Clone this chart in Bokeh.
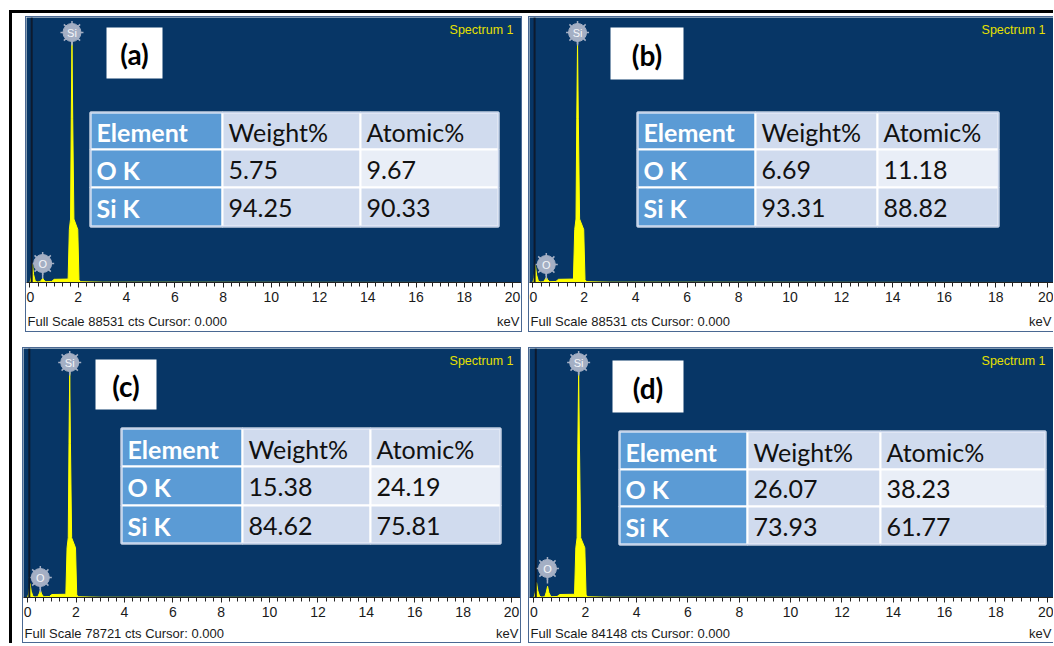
from bokeh.plotting import figure
from bokeh.layouts import row, column
from bokeh.models import Range1d, Label, Span, FixedTicker
from bokeh.embed import file_html
from bokeh.resources import INLINE
from bokeh.core.properties import value

# ---------------- data ----------------
panel_ids = ["(a)", "(b)", "(c)", "(d)"]
full_scale_cts = [88531, 88531, 78721, 84148]
table_header = ["Element", "Weight%", "Atomic%"]
elements = ["O K", "Si K"]
weight_pct = [["5.75", "94.25"], ["6.69", "93.31"], ["15.38", "84.62"], ["26.07", "73.93"]]
atomic_pct = [["9.67", "90.33"], ["11.18", "88.82"], ["24.19", "75.81"], ["38.23", "61.77"]]

energy_kev = [0.00, 0.05, 0.10, 0.15, 0.22, 0.30, 0.42, 0.48, 0.53, 0.58, 0.66, 0.90, 1.00,
              1.58, 1.63, 1.68, 1.71, 1.74, 1.77, 1.82, 1.98, 2.03, 2.10, 3.00, 20.0]
counts_a = [0, 1770, 6200, 2660, 440, 180, 270, 890, 1420, 710, 270, 350, 1060,
            1150, 17700, 21200, 54900, 80600, 54900, 21200, 17700, 890, 270, 90, 0]
counts_b = [0, 1600, 5800, 2500, 440, 180, 270, 1060, 1770, 890, 270, 350, 1060,
            1150, 17700, 21200, 54900, 80600, 54900, 21200, 17700, 890, 270, 90, 0]
counts_c = [0, 1400, 4400, 2000, 390, 160, 240, 1260, 2360, 1100, 240, 320, 940,
            1020, 15700, 18900, 48800, 71600, 48800, 18900, 15700, 790, 240, 80, 0]
counts_d = [0, 1700, 5050, 2300, 420, 170, 250, 1850, 3790, 1700, 250, 340, 1010,
            1090, 16800, 20200, 52200, 76600, 52200, 20200, 16800, 840, 250, 85, 0]
spectra = [counts_a, counts_b, counts_c, counts_d]

peak_labels = ["Si", "O"]
peak_kev = [1.74, 0.525]
x_ticks = [0, 2, 4, 6, 8, 10, 12, 14, 16, 18, 20]

# ---------------- layout / style ----------------
BLUE = "#073666"
YELLOW = "#FFFF00"
PANEL_BORDER = "#4a6892"
MARKER = "#A4AFC4"
FIRST_COL = "#5B9BD5"
CELL = "#D0DBEE"
CELL_LIGHT = "#E9EEF7"
TXT = "#1a1a1a"

panels = [
    dict(cw=495, fh=265, below=31, foot=18, xr=(-0.145, 20.37), margin=(3, 0, 0, 13), right=True,
         box=(80, 136, 10, 61), cols=(64, 196, 334, 472), rows=(95, 132, 170, 209),
         spec_x=487, si_y=15, o_y=246),
    dict(cw=524, fh=265, below=31, foot=18, xr=(-0.128, 20.245), margin=(3, 0, 0, 6), right=False,
         box=(81, 154, 10, 62), cols=(108, 226, 348, 469), rows=(95, 132, 170, 209),
         spec_x=516, si_y=15, o_y=247),
    dict(cw=497, fh=249, below=29, foot=16, xr=(-0.17, 20.37), margin=(15, 0, 0, 10), right=True,
         box=(72, 133, 11, 61), cols=(98, 219, 347, 477), rows=(80, 118, 157, 195),
         spec_x=490, si_y=14, o_y=229),
    dict(cw=524, fh=249, below=29, foot=16, xr=(-0.175, 20.245), margin=(15, 0, 0, 7), right=False,
         box=(83, 154, 12, 64), cols=(90, 218, 351, 516), rows=(83, 121, 158, 196),
         spec_x=516, si_y=14, o_y=220),
]


def make_panel(i):
    L = panels[i]
    fs = full_scale_cts[i]
    p = figure(width=L["cw"], height=L["fh"] + L["below"], x_range=Range1d(*L["xr"]),
               y_range=Range1d(0, fs), output_backend="svg", toolbar_location=None,
               y_axis_location=None, title=None,
               min_border_left=0, min_border_right=0, min_border_top=0,
               min_border_bottom=L["below"],
               background_fill_color=BLUE, border_fill_color="white",
               outline_line_color=None)
    p.extra_x_ranges = {"px": Range1d(0, L["cw"])}
    p.extra_y_ranges = {"px": Range1d(L["fh"], 0)}
    p.grid.visible = False

    ax = p.xaxis[0]
    ax.ticker = FixedTicker(ticks=x_ticks, minor_ticks=[k / 3 for k in range(61)])
    ax.major_label_text_font = "Liberation Sans"
    ax.major_label_text_font_size = "14px"
    ax.major_label_text_color = TXT
    ax.major_label_standoff = 4
    ax.major_tick_in = 0
    ax.major_tick_out = 5
    ax.minor_tick_in = 0
    ax.minor_tick_out = 4
    ax.major_tick_line_color = "#222222"
    ax.minor_tick_line_color = "#222222"
    ax.axis_line_color = "#222222"

    # cursor line
    p.add_layout(Span(location=0.07, dimension="height", line_color="#0d1a2e", line_width=2))

    # spectrum
    y = spectra[i]
    p.varea(x=energy_kev, y1=[0] * len(y), y2=y, fill_color=YELLOW)
    p.line(x=energy_kev, y=y, line_color=YELLOW, line_width=1)

    # peak markers
    for lab, kev, yy, stem in zip(peak_labels, peak_kev, (L["si_y"], L["o_y"]), (13, 15)):
        p.segment(x0=[kev], x1=[kev], y0=[yy], y1=[yy + stem], line_color=MARKER,
                  line_width=1.5, y_range_name="px")
        p.scatter(x=[kev], y=[yy], marker="asterisk", size=23, line_color=MARKER,
                  line_width=1.5, y_range_name="px")
        p.scatter(x=[kev], y=[yy], marker="circle", size=18, fill_color=MARKER,
                  line_color=MARKER, y_range_name="px")
        p.text(x=[kev], y=[yy], text=[lab], text_align="center", text_baseline="middle",
               text_color="#F4F6FA", text_font=value("Liberation Sans"),
               text_font_size="11px", y_range_name="px")

    # panel id box
    b = L["box"]
    p.quad(left=[b[0]], right=[b[1]], top=[b[2]], bottom=[b[3]], fill_color="white",
           line_color=None, x_range_name="px", y_range_name="px")
    p.text(x=[(b[0] + b[1]) / 2], y=[(b[2] + b[3]) / 2 + 1], text=[panel_ids[i]],
           text_align="center", text_baseline="middle", text_color="black",
           text_font=value("Lato"), text_font_style="bold", text_font_size="28px",
           x_range_name="px", y_range_name="px")

    # "Spectrum 1"
    p.add_layout(Label(x=L["spec_x"], y=12, x_range_name="px", y_range_name="px",
                       text="Spectrum 1", text_align="right", text_baseline="middle",
                       text_color="#E6E000", text_font="Liberation Sans",
                       text_font_size="12.5px"))

    # table
    cols, rows = L["cols"], L["rows"]
    left, right, top, bottom, fill = [], [], [], [], []
    texts, tx, ty, tcol, tstyle = [], [], [], [], []
    body = [table_header,
            [elements[0], weight_pct[i][0], atomic_pct[i][0]],
            [elements[1], weight_pct[i][1], atomic_pct[i][1]]]
    for r in range(3):
        for c in range(3):
            left.append(cols[c]); right.append(cols[c + 1])
            top.append(rows[r]); bottom.append(rows[r + 1])
            if c == 0:
                fill.append(FIRST_COL)
            elif r == 1 and c == 2:
                fill.append(CELL_LIGHT)
            else:
                fill.append(CELL)
            texts.append(body[r][c])
            tx.append(cols[c] + 6)
            ty.append((rows[r] + rows[r + 1]) / 2 + 1)
            tcol.append("white" if c == 0 else "#111111")
            tstyle.append("bold" if c == 0 else "normal")
    p.quad(left=left, right=right, top=top, bottom=bottom, fill_color=fill,
           line_color="white", line_width=2, x_range_name="px", y_range_name="px")
    p.quad(left=[cols[0]], right=[cols[3]], top=[rows[0]], bottom=[rows[3]],
           fill_color=None, line_color="#C6D3EA", line_width=1.5,
           x_range_name="px", y_range_name="px")
    p.text(x=tx, y=ty, text=texts, text_color=tcol, text_font_style=tstyle,
           text_align="left", text_baseline="middle", text_font=value("Lato"),
           text_font_size="25px", x_range_name="px", y_range_name="px")

    # footer strip with the status texts
    f = figure(width=L["cw"], height=L["foot"], x_range=Range1d(0, L["cw"]),
               y_range=Range1d(L["foot"], 0), output_backend="svg", toolbar_location=None,
               x_axis_location=None, y_axis_location=None, title=None, min_border=0,
               background_fill_color="white", border_fill_color="white",
               outline_line_color=None)
    f.grid.visible = False
    ymid = L["foot"] / 2 - 1
    f.text(x=[1], y=[ymid], text=[f"Full Scale {full_scale_cts[i]} cts Cursor: 0.000"],
           text_align="left", text_baseline="middle", text_color=TXT,
           text_font=value("Liberation Sans"), text_font_size="13px")
    f.text(x=[L["cw"] - 2], y=[ymid], text=["keV"], text_align="right",
           text_baseline="middle", text_color=TXT,
           text_font=value("Liberation Sans"), text_font_size="13px")

    border = {"border-left": f"1px solid {PANEL_BORDER}",
              "border-top": f"1px solid {PANEL_BORDER}",
              "border-bottom": f"1px solid {PANEL_BORDER}",
              "background": "white"}
    if L["right"]:
        border["border-right"] = f"1px solid {PANEL_BORDER}"
    return column(p, f, spacing=0, margin=L["margin"], styles=border)


panels_ui = [make_panel(i) for i in range(4)]
root = column(row(panels_ui[0], panels_ui[1]), row(panels_ui[2], panels_ui[3]),
              margin=(10, 0, 0, 9),
              styles={"border-left": "3px solid black", "border-top": "3px solid black",
                      "background": "white"})

open("out.html", "w").write(file_html(root, INLINE))
